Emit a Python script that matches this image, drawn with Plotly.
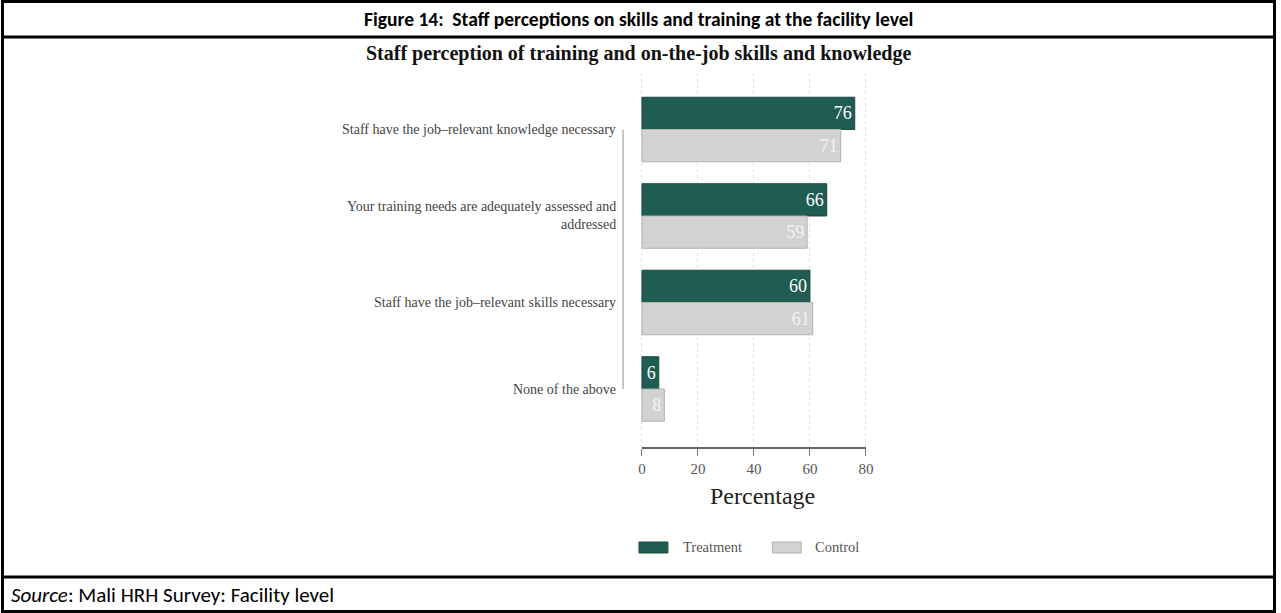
import plotly.graph_objects as go

# Survey items (top to bottom) and shares of staff agreeing, in percent
categories = [
    "Staff have the job\u2013relevant knowledge necessary",
    "Your training needs are adequately assessed and<br>addressed",
    "Staff have the job\u2013relevant skills necessary",
    "None of the above",
]
treatment = [76, 66, 60, 6]
control = [71, 59, 61, 8]
x_ticks = [0, 20, 40, 60, 80]

W, H = 1281, 613
TEAL = "#1f5c52"
GREY = "#d2d2d2"
SERIF = "Liberation Serif, DejaVu Serif, serif"
SANS = "Carlito, Liberation Sans Narrow, Open Sans, Noto Sans, sans-serif"


def px(x):
    return x / W


def py(y):
    return 1 - y / H


idx = list(range(len(categories)))

fig = go.Figure()
fig.add_trace(go.Bar(
    name="Treatment", y=idx, x=treatment, orientation="h",
    marker=dict(color=TEAL, line=dict(color="#174a42", width=1)),
    text=treatment, textposition="inside", insidetextanchor="end",
    textfont=dict(family=SERIF, size=18, color="white"),
    cliponaxis=False,
))
fig.add_trace(go.Bar(
    name="Control", y=idx, x=control, orientation="h",
    marker=dict(color=GREY, line=dict(color="#b2b2b2", width=1)),
    text=control, textposition="inside", insidetextanchor="end",
    textfont=dict(family=SERIF, size=18, color="#f4f4f4"),
    cliponaxis=False,
))

x0_px, unit = 644.0, 2.8125
xr = [-1, 81]
dom_x = [px(x0_px + xr[0] * unit), px(x0_px + xr[1] * unit)]
top_px, bot_px = 73, 448

fig.update_layout(
    width=W, height=H,
    margin=dict(l=0, r=0, t=0, b=0),
    paper_bgcolor="white", plot_bgcolor="white",
    barmode="group", bargap=0.254, bargroupgap=0,
    showlegend=False,
    font=dict(family=SERIF, color="#444"),
    xaxis=dict(
        domain=dom_x, range=xr, tickvals=x_ticks,
        showgrid=True, gridcolor="#e0e0e0", griddash="dot", gridwidth=1,
        zeroline=False, showline=False,
        ticks="outside", ticklen=7, tickwidth=1, tickcolor="#777",
        tickfont=dict(family=SERIF, size=15, color="#555"),
        anchor="y",
    ),
    yaxis=dict(
        domain=[py(bot_px), py(top_px)],
        range=[3.682, -0.653],
        showticklabels=False, showgrid=False, zeroline=False,
        showline=False, ticks="",
    ),
)

shapes = []
# x-axis line spanning the tick range
shapes.append(dict(type="line", xref="x", yref="paper", x0=0, x1=80,
                   y0=py(bot_px), y1=py(bot_px),
                   line=dict(color="#666", width=2)))
# y-axis range frame from first to last category
shapes.append(dict(type="line", xref="paper", yref="y", x0=px(625), x1=px(625),
                   y0=0, y1=len(categories) - 1,
                   line=dict(color="#b5b5b5", width=1.5)))
# table frame around the figure
bk = dict(color="black", width=3)
for y in [1.5, 37, 577, 611.5]:
    shapes.append(dict(type="line", xref="paper", yref="paper",
                       x0=0, x1=1, y0=py(y), y1=py(y), line=bk))
shapes.append(dict(type="line", xref="paper", yref="paper",
                   x0=px(1.5), x1=px(1.5), y0=0, y1=1, line=bk))
shapes.append(dict(type="line", xref="paper", yref="paper",
                   x0=px(1279.5), x1=px(1279.5), y0=0, y1=1, line=bk))

ann = []
for i, c in enumerate(categories):
    ann.append(dict(xref="paper", yref="y", x=px(620), y=i, text=c,
                    xanchor="right", yanchor="middle", align="right",
                    showarrow=False,
                    font=dict(family=SERIF, size=14, color="#444")))
ann.append(dict(xref="paper", yref="paper", x=px(640), y=py(19),
                text="<b>Figure 14:\u00a0 Staff perceptions on skills and training at the facility level</b>",
                showarrow=False, xanchor="center", yanchor="middle",
                font=dict(family=SANS, size=19.5, color="black")))
ann.append(dict(xref="paper", yref="paper", x=px(640), y=py(53),
                text="<b>Staff perception of training and on-the-job skills and knowledge</b>",
                showarrow=False, xanchor="center", yanchor="middle",
                font=dict(family=SERIF, size=20, color="#111")))
ann.append(dict(xref="paper", yref="paper", x=px(765), y=py(496),
                text="Percentage", showarrow=False,
                xanchor="center", yanchor="middle",
                font=dict(family=SERIF, size=24, color="#222")))
ann.append(dict(xref="paper", yref="paper", x=px(8), y=py(595),
                text="<i>Source</i>: Mali HRH Survey: Facility level",
                showarrow=False, xanchor="left", yanchor="middle",
                font=dict(family=SANS, size=21, color="black")))

# legend drawn as swatches with labels
leg = [("Treatment", TEAL, "#174a42", 641, 683), ("Control", GREY, "#b2b2b2", 775, 816)]
for name, col, edge, sx, tx in leg:
    shapes.append(dict(type="rect", xref="paper", yref="paper",
                       x0=px(sx), x1=px(sx + 29), y0=py(553), y1=py(542),
                       fillcolor=col, line=dict(color=edge, width=1)))
    ann.append(dict(xref="paper", yref="paper", x=px(tx), y=py(547), text=name,
                    showarrow=False, xanchor="left", yanchor="middle",
                    font=dict(family=SERIF, size=14.5, color="#555")))

fig.update_layout(shapes=shapes, annotations=ann)
fig.write_html("out.html")
